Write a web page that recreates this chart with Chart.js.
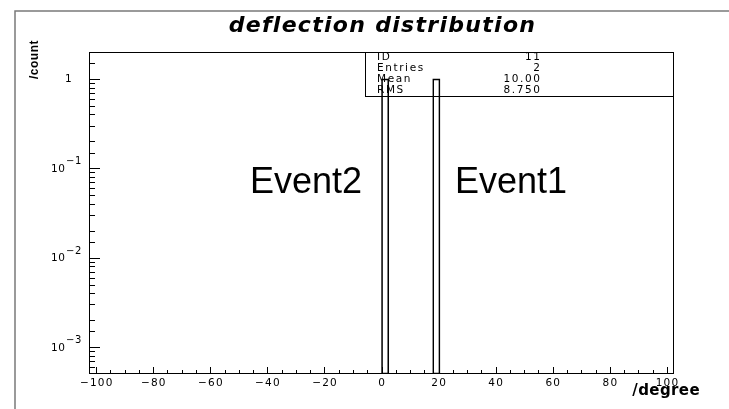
<!DOCTYPE html>
<html>
<head>
<meta charset="utf-8">
<script src="https://cdn.jsdelivr.net/npm/chart.js@4.4.0/dist/chart.umd.min.js"></script>
<style>
html, body { margin: 0; padding: 0; background: #fff; overflow: hidden; }
#obal { width: 729px; height: 409px; }
</style>
</head>
<body>
<div id="obal"><canvas id="graf"></canvas></div>
<script>
// histogram: two entries, 80 bins of 2.5 degrees from -100 to 100
const eventNames = ["Event1", "Event2"];
const eventDegrees = [18.75, 1.25];
const histRange = [-100, 100];
const binWidth = 2.5;
const yRange = [5e-4, 2];
const xTickStep = 5;
const xLabelStep = 20;
const statNames = ["ID", "Entries", "Mean", "RMS"];
const statValues = ["11", "2", "10.00", "8.750"];
const chartTitle = "deflection distribution";
const xTitle = "/degree";
const yTitle = "/count";

// bins
const binLabels = [];
const binCounts = [];
for (let lo = histRange[0]; lo < histRange[1]; lo += binWidth) {
    binLabels.push((lo + binWidth / 2).toFixed(2));
    binCounts.push(null);
}
eventDegrees.forEach(function(d) {
    const i = Math.floor((d - histRange[0]) / binWidth);
    binCounts[i] = (binCounts[i] || 0) + 1;
});

function pawFont(ctx, size, bold) {
    ctx.font = (bold ? "bold " : "") + size + "px 'DejaVu Sans', sans-serif";
}

const ramecek = {
    id: "ramecek",
    beforeDatasetsDraw(chart) {
        const ctx = chart.ctx, a = chart.chartArea;
        ctx.save();
        // outer grey frame
        ctx.strokeStyle = "#7a7a7a";
        ctx.lineWidth = 1.5;
        ctx.beginPath();
        ctx.moveTo(15, 409); ctx.lineTo(15, 11); ctx.lineTo(729, 11);
        ctx.stroke();
        // stats box
        ctx.strokeStyle = "#000";
        ctx.lineWidth = 1;
        ctx.strokeRect(365.5, a.top + 0.5, a.right - 366, 44);
        pawFont(ctx, 10.5, false);
        ctx.letterSpacing = "1.6px";
        ctx.fillStyle = "#000";
        ctx.textBaseline = "middle";
        for (let i = 0; i < statNames.length; i++) {
            const y = a.top + 5.5 + i * 11;
            ctx.textAlign = "left";
            ctx.fillText(statNames[i], 377, y);
            ctx.textAlign = "right";
            ctx.fillText(statValues[i], 541.5, y);
        }
        ctx.restore();
    },
    afterDatasetsDraw(chart) {
        const ctx = chart.ctx, a = chart.chartArea;
        const xs = chart.scales.xv, ys = chart.scales.y;
        ctx.save();
        ctx.strokeStyle = "#000";
        ctx.lineWidth = 1;
        ctx.strokeRect(a.left + 0.5, a.top + 0.5, a.right - a.left - 1, a.bottom - a.top - 1);

        // x ticks (inside) and labels
        ctx.beginPath();
        xs.ticks.forEach(function(t) {
            const px = Math.round(xs.getPixelForValue(t.value)) + 0.5;
            const major = t.value % xLabelStep === 0;
            ctx.moveTo(px, a.bottom);
            ctx.lineTo(px, a.bottom - (major ? 7 : 4));
        });
        // y ticks (inside)
        ys.ticks.forEach(function(t) {
            const e = Math.log10(t.value);
            const major = Math.abs(e - Math.round(e)) < 1e-9;
            const py = Math.round(ys.getPixelForValue(t.value)) + 0.5;
            if (py < a.top + 1 || py > a.bottom - 1) return;
            ctx.moveTo(a.left, py);
            ctx.lineTo(a.left + (major ? 11 : 6), py);
        });
        ctx.stroke();

        ctx.fillStyle = "#000";
        pawFont(ctx, 10.5, false);
        ctx.letterSpacing = "1.2px";
        ctx.textAlign = "center";
        ctx.textBaseline = "alphabetic";
        xs.ticks.forEach(function(t) {
            if (t.value % xLabelStep !== 0) return;
            const px = xs.getPixelForValue(t.value);
            const txt = t.value < 0 ? "\u2212" + Math.abs(t.value) : String(t.value);
            ctx.fillText(txt, px + 0.6, 385.5);
        });

        // y labels
        ys.ticks.forEach(function(t) {
            const e = Math.round(Math.log10(t.value));
            if (Math.abs(Math.log10(t.value) - e) > 1e-9) return;
            const py = ys.getPixelForValue(t.value);
            ctx.textBaseline = "middle";
            ctx.textAlign = "left";
            pawFont(ctx, 10.5, false);
            ctx.letterSpacing = "0.6px";
            if (e === 0) {
                ctx.fillText("1", 65, py);
            } else {
                ctx.fillText("10", 51, py + 1);
                pawFont(ctx, 10, false);
                ctx.letterSpacing = "0.6px";
                ctx.fillText("\u2212" + Math.abs(e), 66, py - 6.5);
            }
        });

        // titles
        ctx.letterSpacing = "1.3px";
        ctx.font = "italic bold 22px 'DejaVu Sans', sans-serif";
        ctx.textAlign = "center";
        ctx.textBaseline = "alphabetic";
        ctx.fillText(chartTitle, (a.left + a.right) / 2 + 1, 32);

        ctx.letterSpacing = "0.4px";
        pawFont(ctx, 15, true);
        ctx.textAlign = "right";
        ctx.fillText(xTitle, 700, 395);

        ctx.save();
        ctx.letterSpacing = "0.5px";
        ctx.font = "bold 12px 'Liberation Sans', Arial, sans-serif";
        ctx.translate(38, 40);
        ctx.rotate(-Math.PI / 2);
        ctx.textAlign = "right";
        ctx.fillText(yTitle, 0, 0);
        ctx.restore();

        // event labels
        ctx.letterSpacing = "0px";
        ctx.font = "36px 'Liberation Sans', Arial, sans-serif";
        ctx.textAlign = "left";
        ctx.fillText(eventNames[1], 250, 193);
        ctx.fillText(eventNames[0], 455, 193);
        ctx.restore();
    }
};

const skryta = {
    display: true,
    grid: { display: false, drawTicks: false },
    border: { display: false },
    ticks: { display: false }
};

new Chart(document.getElementById("graf"), {
    type: "bar",
    data: {
        labels: binLabels,
        datasets: [{
            data: binCounts,
            backgroundColor: "rgba(0,0,0,0)",
            borderColor: "#000",
            borderWidth: 1,
            borderSkipped: false,
            categoryPercentage: 1,
            barPercentage: 1
        }]
    },
    options: {
        responsive: true,
        maintainAspectRatio: false,
        animation: false,
        layout: { padding: { left: 89, right: 55, top: 52, bottom: 35 } },
        plugins: { legend: { display: false }, tooltip: { enabled: false }, title: { display: false } },
        scales: {
            x: Object.assign({}, skryta, { type: "category", afterFit: function(s) { s.height = 0; } }),
            xv: Object.assign({}, skryta, {
                type: "linear", position: "bottom", min: histRange[0], max: histRange[1],
                ticks: { display: false, stepSize: xTickStep },
                afterFit: function(s) { s.height = 0; }
            }),
            y: Object.assign({}, skryta, {
                type: "logarithmic", min: yRange[0], max: yRange[1],
                afterFit: function(s) { s.width = 0; }
            })
        }
    },
    plugins: [ramecek]
});
</script>
</body>
</html>
